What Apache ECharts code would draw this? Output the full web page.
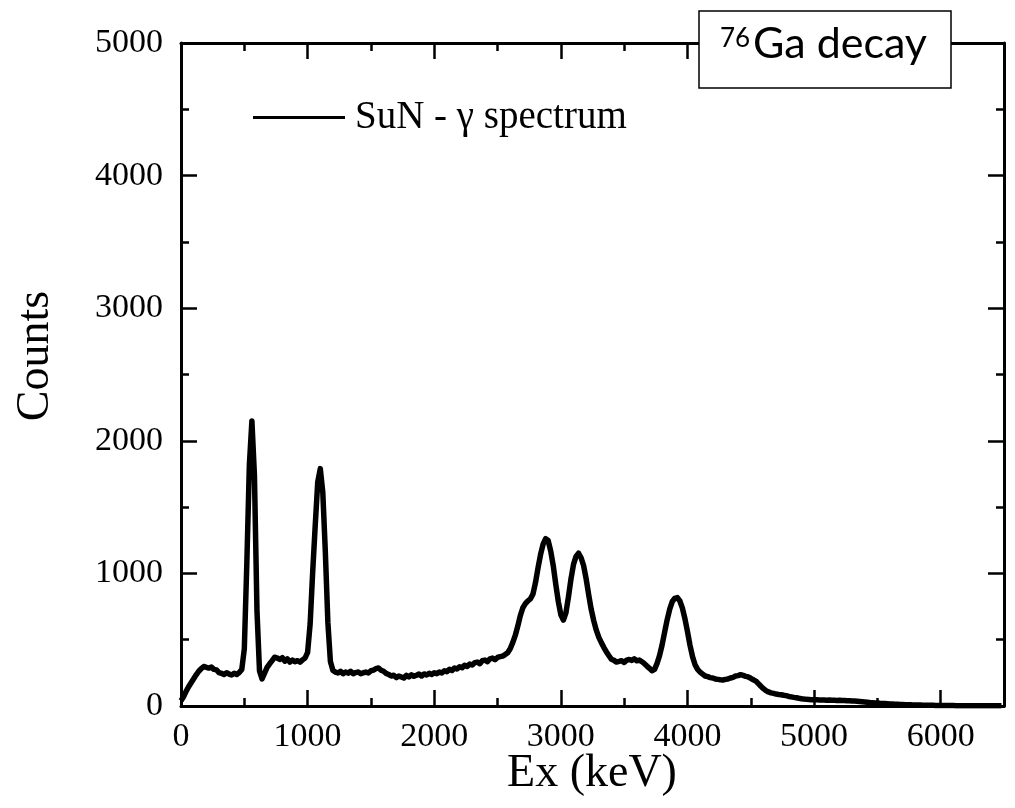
<!DOCTYPE html>
<html>
<head>
<meta charset="utf-8">
<script src="https://cdn.jsdelivr.net/npm/echarts@6/dist/echarts.min.js"></script>
<style>
  html, body { margin: 0; padding: 0; background: #fff; }
  #chart { width: 1015px; height: 808px; }
</style>
</head>
<body>
<div id="chart"></div>
<script>
// SuN gamma spectrum, 20 keV bins starting at 0 keV
const binWidth = 20;
const counts = [
  40, 70, 110, 145, 175, 205, 235, 262, 282, 298,
  292, 286, 293, 276, 272, 252, 246, 238, 251, 241,
  234, 247, 238, 252, 275, 430, 1080, 1820, 2150, 1740,
  720, 265, 205, 248, 292, 318, 342, 368, 362, 351,
  364, 338, 356, 331, 347, 334, 342, 331, 348, 362,
  405, 620, 1010, 1360, 1690, 1790, 1610, 1160, 630, 335,
  268, 256, 249, 262, 244, 257, 248, 261, 244, 252,
  256, 243, 251, 256, 249, 266, 271, 282, 287, 270,
  262, 246, 238, 226, 232, 214, 226, 219, 211, 231,
  219, 236, 224, 232, 241, 226, 242, 234, 246, 238,
  251, 244, 257, 249, 266, 259, 276, 268, 287, 279,
  296, 288, 307, 299, 316, 309, 327, 331, 319, 342,
  346, 334, 356, 361, 349, 366, 372, 376, 388, 402,
  432, 478, 532, 603, 682, 741, 772, 793, 808, 845,
  932, 1042, 1143, 1221, 1262, 1248, 1168, 1058, 918, 788,
  688, 648, 702, 822, 958, 1068, 1128, 1152, 1118, 1058,
  958, 838, 728, 642, 572, 518, 478, 441, 408, 379,
  352, 344, 331, 336, 342, 329, 346, 351, 344, 356,
  341, 346, 334, 319, 301, 284, 266, 276, 321, 382,
  462, 558, 652, 731, 788, 812, 818, 792, 738, 658,
  562, 458, 372, 311, 276, 256, 241, 226, 221, 214,
  211, 204, 201, 198, 196, 201, 204, 211, 216, 226,
  229, 236, 231, 224, 219, 209, 198, 188, 169, 149,
  131, 116, 106, 99, 95, 90, 87, 85, 81, 78,
  72, 69, 65, 62, 58, 55, 52, 50, 49, 48,
  47, 48, 46, 45, 46, 44, 45, 43, 44, 42,
  43, 41, 42, 40, 40, 38, 38, 36, 34, 32,
  30, 28, 26, 25, 23, 22, 20, 19, 18, 17,
  16, 15, 14, 13, 12, 11, 10, 10, 9, 8,
  8, 7, 7, 6, 6, 5, 5, 5, 4, 4,
  4, 3, 3, 3, 3, 3, 2, 2, 2, 2,
  2, 2, 2, 2, 2, 1, 1, 1, 1, 1,
  1, 1, 1, 1, 1
];
const seriesName = 'SuN - \u03b3 spectrum';
const xTitle = 'Ex (keV)';
const yTitle = 'Counts';
const isotopeMass = '76';
const decayLabel = 'Ga decay';

const spectrum = counts.map((c, i) => [i * binWidth, c]);

const serif = '"Liberation Serif", "Times New Roman", serif';
const sans = 'Lato, "Open Sans", sans-serif';
const black = '#000';
const plainNumber = v => String(v);

function xAxisDef(position, interval, tickLen, labels, lineShow) {
  return {
    type: 'value', position: position, min: 0, max: 6500, interval: interval,
    axisLine: { show: lineShow, onZero: false, lineStyle: { color: black, width: 3 } },
    axisTick: { show: true, inside: true, length: tickLen, lineStyle: { color: black, width: 2.5 } },
    axisLabel: {
      show: labels, showMaxLabel: false, margin: 14, formatter: plainNumber,
      fontFamily: serif, fontSize: 34, color: black
    },
    splitLine: { show: false }
  };
}
function yAxisDef(position, labels) {
  return {
    type: 'value', position: position, min: 0, max: 5000, interval: 1000,
    axisLine: { show: true, onZero: false, lineStyle: { color: black, width: 3 } },
    axisTick: { show: true, inside: true, length: 16, lineStyle: { color: black, width: 2.5 } },
    minorTick: { show: true, splitNumber: 2, length: 8, lineStyle: { color: black, width: 2.5 } },
    axisLabel: { show: labels, margin: 18, formatter: plainNumber,
                 fontFamily: serif, fontSize: 34, color: black },
    splitLine: { show: false }, minorSplitLine: { show: false }
  };
}

const chart = echarts.init(document.getElementById('chart'), null, { renderer: 'canvas' });
chart.setOption({
  animation: false,
  backgroundColor: '#fff',
  grid: { left: 181, top: 43, width: 823, height: 663, containLabel: false },
  legend: {
    left: 253, top: 98, padding: 0,
    itemWidth: 92, itemHeight: 3,
    data: [{ name: seriesName, icon: 'rect' }],
    textStyle: { fontFamily: serif, fontSize: 39, color: black, padding: [4, 0, 0, 5] }
  },
  xAxis: [
    xAxisDef('bottom', 1000, 16, true, true),
    xAxisDef('bottom', 500, 8, false, false),
    xAxisDef('top', 1000, 16, false, true),
    xAxisDef('top', 500, 8, false, false)
  ],
  yAxis: [yAxisDef('left', true), yAxisDef('right', false)],
  series: [{
    name: seriesName,
    type: 'line',
    xAxisIndex: 0, yAxisIndex: 0,
    data: spectrum,
    showSymbol: false,
    symbol: 'none',
    itemStyle: { color: black },
    lineStyle: { color: black, width: 5.5, join: 'round' }
  }],
  graphic: [
    {
      type: 'text', x: 36, y: 356, rotation: Math.PI / 2, z: 100,
      style: { text: yTitle, font: '46px ' + serif, fill: black,
               align: 'center', verticalAlign: 'middle',
               textAlign: 'center', textVerticalAlign: 'middle' }
    },
    {
      type: 'text', x: 592, y: 774, z: 100,
      style: { text: xTitle, font: '46px ' + serif, fill: black,
               align: 'center', verticalAlign: 'middle',
               textAlign: 'center', textVerticalAlign: 'middle' }
    },
    {
      type: 'rect', z: 100,
      shape: { x: 699, y: 11, width: 252, height: 77 },
      style: { fill: '#fff', stroke: black, lineWidth: 1.5 }
    },
    {
      type: 'text', x: 720, y: 38.5, z: 101,
      style: { text: isotopeMass, font: '26px ' + sans, fill: black,
               align: 'left', verticalAlign: 'middle',
               textAlign: 'left', textVerticalAlign: 'middle' }
    },
    {
      type: 'text', x: 753, y: 44.5, z: 101,
      style: { text: decayLabel, font: '43px ' + sans, fill: black,
               align: 'left', verticalAlign: 'middle',
               textAlign: 'left', textVerticalAlign: 'middle' }
    }
  ]
});
</script>
</body>
</html>
